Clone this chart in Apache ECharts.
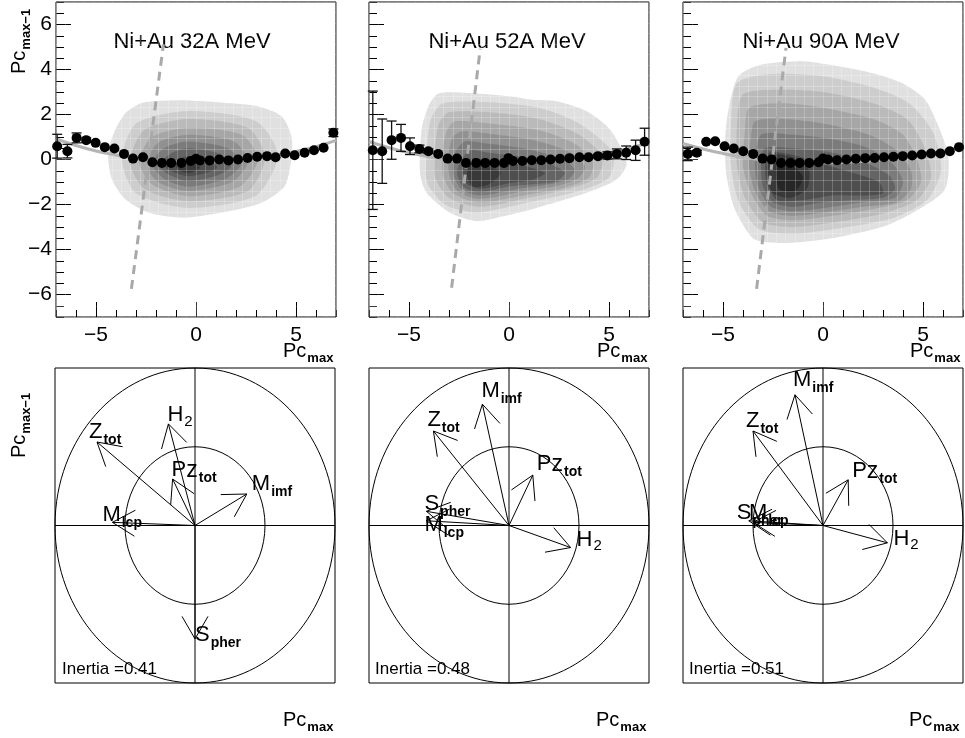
<!DOCTYPE html>
<html><head><meta charset="utf-8">
<script src="https://cdn.jsdelivr.net/npm/echarts@6/dist/echarts.min.js"></script>
<style>html,body{margin:0;padding:0;background:#fff}#c{width:965px;height:738px}</style>
</head><body><div id="c"></div>
<script>
// ---------------- DATA ----------------
const titles = ['Ni+Au 32A MeV', 'Ni+Au 52A MeV', 'Ni+Au 90A MeV'];
const xMajorTicks = [-5, 0, 5];
const yMajorTicks = [-6, -4, -2, 0, 2, 4, 6];

// profile points (mean PC_max-1 per PC_max bin) and their errors
const prof1X = [-6.94,-6.43,-5.97,-5.49,-5.02,-4.56,-4.08,-3.6,-3.15,-2.65,-2.18,-1.7,-1.24,-0.73,-0.27,0.0,0.2,0.68,1.16,1.62,2.1,2.58,3.06,3.55,3.98,4.46,4.93,5.43,5.9,6.38,6.87];
const prof1Y = [0.59,0.37,0.96,0.86,0.74,0.55,0.49,0.25,0.04,0.1,-0.12,-0.15,-0.15,-0.15,-0.07,0.03,-0.04,-0.04,0,-0.04,0,0.07,0.12,0.15,0.1,0.27,0.19,0.3,0.41,0.52,1.19];
const prof1E = [0.53,0.3,0.22,0.1,0.06,0.05,0,0,0,0,0,0,0,0,0,0,0,0,0,0,0,0,0,0,0,0,0,0,0,0.05,0.17];

const prof2X = [-6.81,-6.34,-5.87,-5.4,-4.95,-4.48,-4.03,-3.54,-3.07,-2.6,-2.15,-1.64,-1.19,-0.72,-0.25,-0.03,0.2,0.67,1.14,1.61,2.08,2.55,3.02,3.52,3.98,4.45,4.92,5.39,5.86,6.33,6.78];
const prof2Y = [0.41,0.37,0.86,0.96,0.59,0.47,0.37,0.25,0.04,0.04,-0.15,-0.15,-0.15,-0.15,-0.15,0.06,-0.07,-0.07,-0.03,-0.03,0,0.03,0.06,0.1,0.1,0.15,0.18,0.25,0.3,0.41,0.79];
const prof2E = [2.63,1.43,0.85,0.6,0.37,0.17,0.1,0.06,0,0,0,0,0,0,0,0,0,0,0,0,0,0,0,0,0.05,0.08,0.16,0.22,0.3,0.45,0.6];

const prof3X = [-6.76,-6.31,-5.84,-5.39,-4.92,-4.46,-3.99,-3.49,-3.02,-2.57,-2.1,-1.63,-1.17,-0.69,-0.22,0.0,0.25,0.7,1.17,1.64,2.11,2.58,3.05,3.52,3.99,4.46,4.93,5.4,5.87,6.34,6.8];
const prof3Y = [0.25,0.3,0.79,0.81,0.59,0.49,0.37,0.25,0.04,0,-0.15,-0.15,-0.15,-0.15,-0.12,0.04,0,-0.03,0,0.03,0.06,0.07,0.1,0.12,0.15,0.18,0.22,0.27,0.27,0.37,0.55];
const prof3E = [0.3,0.1,0.05,0,0,0,0,0,0,0,0,0,0,0,0,0,0,0,0,0,0,0,0,0,0,0,0,0,0,0,0];

// fitted parabola
const fitX = [-7,-6,-5,-4,-3,-2,-1,0,1,2,3,4,5,6,7];
const fit1Y = [0.93,0.62,0.38,0.2,0.03,-0.05,-0.1,-0.1,-0.08,-0.02,0.07,0.2,0.36,0.57,0.85];
const fit2Y = [0.8,0.52,0.3,0.12,-0.02,-0.1,-0.14,-0.14,-0.1,-0.05,0.05,0.16,0.3,0.5,0.75];
const fit3Y = [0.71,0.47,0.27,0.1,-0.02,-0.1,-0.14,-0.14,-0.12,-0.08,0.0,0.1,0.22,0.38,0.6];

// dashed separation line end points
const dash1 = [[-3.23,-5.75],[-1.63,5.11]];
const dash2 = [[-2.87,-5.7],[-1.44,4.92]];
const dash3 = [[-3.32,-5.75],[-1.85,4.96]];

// contour levels (outer -> inner), vertices [PC_max, PC_max-1]
const cont1 = [
 [[-2.67,2.52],[-0.81,2.63],[1.05,2.55],[3.08,2.37],[4.27,1.93],[4.77,1.04],[4.77,0.0],[4.43,-1.19],[3.25,-1.93],[1.22,-2.37],[-0.64,-2.59],[-2.34,-2.37],[-3.52,-1.78],[-4.2,-0.89],[-4.4,0.3],[-4.03,1.33],[-3.52,2.07]],
 [[-0.5,2.15],[3.0,1.7],[4.1,0.2],[3.0,-1.6],[-0.4,-2.15],[-3.0,-1.5],[-3.7,0.0],[-3.0,1.6]],
 [[-0.4,1.8],[2.6,1.4],[3.45,0.1],[2.6,-1.4],[-0.4,-1.85],[-2.6,-1.3],[-3.3,-0.1],[-2.6,1.3]],
 [[-0.4,1.4],[2.3,1.1],[3.1,0.0],[2.2,-1.2],[-0.4,-1.63],[-2.2,-1.1],[-2.85,-0.1],[-2.2,1.0]],
 [[-0.4,1.1],[1.9,0.8],[2.6,-0.1],[1.8,-1.0],[-0.4,-1.4],[-1.9,-1.0],[-2.5,-0.2],[-1.9,0.75]],
 [[-0.4,0.8],[1.6,0.5],[2.25,-0.2],[1.5,-0.85],[-0.4,-1.2],[-1.6,-0.85],[-2.2,-0.2],[-1.6,0.5]],
 [[-0.4,0.5],[1.2,0.25],[1.75,-0.3],[1.1,-0.7],[-0.4,-0.96],[-1.3,-0.7],[-1.85,-0.3],[-1.3,0.25]],
 [[-0.4,0.15],[0.6,0.0],[1.05,-0.35],[0.5,-0.6],[-0.4,-0.74],[-1.0,-0.6],[-1.5,-0.35],[-1.0,0.0]],
 [[-0.5,-0.05],[0.2,-0.35],[-0.4,-0.6],[-1.0,-0.35]]
];
const cont2 = [
 [[-3.62,2.89],[-3.12,2.99],[-1.95,2.96],[0.05,2.81],[1.05,2.67],[2.38,2.59],[3.88,2.15],[5.05,1.33],[5.88,-0.15],[5.38,-0.89],[3.88,-1.48],[1.38,-2.15],[-0.28,-2.52],[-1.62,-2.74],[-2.95,-2.37],[-4.12,-1.48],[-4.45,-0.59],[-4.37,1.33],[-4.03,2.37]],
 [[-3.3,2.5],[-1.0,2.55],[1.5,2.3],[3.5,1.6],[5.2,0.3],[5.0,-0.8],[3.5,-1.4],[1.0,-1.9],[-1.6,-2.35],[-3.2,-2.0],[-4.1,-1.0],[-4.1,0.5],[-3.9,1.8]],
 [[-3.0,2.1],[-1.0,2.1],[1.5,1.8],[3.5,1.1],[4.7,0.1],[4.4,-0.8],[3.0,-1.3],[1.0,-1.7],[-1.5,-2.1],[-3.0,-1.7],[-3.7,-0.8],[-3.7,0.5],[-3.5,1.6]],
 [[-2.7,1.7],[-1.0,1.6],[1.5,1.3],[3.3,0.7],[4.2,-0.1],[4.0,-0.8],[2.8,-1.25],[1.0,-1.55],[-1.5,-1.9],[-2.8,-1.5],[-3.3,-0.7],[-3.3,0.5],[-3.1,1.3]],
 [[-2.4,1.25],[-1.0,1.15],[1.3,0.85],[3.0,0.35],[3.8,-0.3],[3.5,-0.8],[2.5,-1.15],[0.8,-1.4],[-1.5,-1.75],[-2.6,-1.4],[-3.0,-0.6],[-3.0,0.4],[-2.8,1.0]],
 [[-2.2,0.8],[-1.0,0.7],[1.0,0.45],[2.6,0.05],[3.3,-0.45],[3.0,-0.85],[2.0,-1.1],[0.5,-1.3],[-1.5,-1.6],[-2.4,-1.3],[-2.8,-0.6],[-2.7,0.3]],
 [[-2.0,0.4],[-1.0,0.3],[0.8,0.1],[2.2,-0.25],[2.8,-0.6],[2.4,-0.95],[1.2,-1.1],[0.0,-1.2],[-1.5,-1.45],[-2.3,-1.2],[-2.6,-0.5]],
 [[-1.9,0.05],[-0.8,-0.1],[0.8,-0.3],[1.8,-0.6],[1.2,-0.9],[0.0,-1.05],[-1.5,-1.3],[-2.2,-1.0],[-2.3,-0.4]],
 [[-1.9,-0.2],[-1.0,-0.3],[-0.4,-0.6],[-1.0,-1.1],[-1.8,-1.2],[-2.1,-0.7]]
];
const cont3 = [
 [[-4.23,3.70],[-3.07,4.22],[-1.07,4.37],[0.27,4.22],[2.43,3.85],[3.93,3.41],[5.1,2.67],[5.77,1.48],[6.27,0.15],[6.1,-1.33],[4.77,-2.22],[3.1,-2.96],[0.6,-3.48],[-1.57,-3.7],[-3.4,-3.56],[-4.4,-2.22],[-4.82,-0.74],[-4.9,0.74],[-4.73,2.22]],
 [[-4.3,3.4],[-2.5,3.8],[0.0,3.7],[2.5,3.2],[4.3,2.5],[5.5,1.2],[5.9,-0.5],[5.2,-1.8],[3.5,-2.6],[0.5,-3.1],[-1.5,-3.3],[-3.2,-3.1],[-4.2,-1.9],[-4.6,-0.3],[-4.6,1.5]],
 [[-4.0,2.9],[-2.0,3.1],[0.0,3.0],[2.5,2.5],[4.2,1.8],[5.1,0.5],[5.4,-0.8],[4.7,-1.8],[3.0,-2.4],[0.5,-2.8],[-1.5,-3.0],[-3.0,-2.8],[-3.9,-1.7],[-4.3,-0.3],[-4.3,1.5]],
 [[-3.7,2.3],[-2.0,2.5],[0.0,2.3],[2.5,1.8],[4.0,1.1],[4.7,0.0],[4.9,-1.0],[4.2,-1.8],[2.5,-2.2],[0.5,-2.5],[-1.5,-2.7],[-2.8,-2.5],[-3.6,-1.5],[-4.0,-0.3],[-3.9,1.3]],
 [[-3.4,1.7],[-2.0,1.8],[0.0,1.6],[2.3,1.1],[3.7,0.4],[4.4,-0.5],[4.4,-1.3],[3.7,-1.9],[2.0,-2.1],[0.5,-2.3],[-1.5,-2.5],[-2.7,-2.3],[-3.4,-1.4],[-3.7,-0.3],[-3.6,1.0]],
 [[-3.1,1.1],[-1.5,1.1],[0.5,0.9],[2.3,0.5],[3.5,-0.2],[4.0,-1.0],[3.6,-1.7],[2.0,-1.9],[0.5,-2.1],[-1.5,-2.3],[-2.6,-2.1],[-3.2,-1.3],[-3.4,-0.3]],
 [[-2.9,0.5],[-1.5,0.5],[0.5,0.3],[2.0,-0.1],[3.3,-0.7],[3.6,-1.3],[3.0,-1.7],[1.5,-1.8],[0.0,-1.9],[-1.5,-2.1],[-2.5,-1.9],[-3.0,-1.2],[-3.1,-0.3]],
 [[-2.7,0.3],[-1.5,0.2],[0.0,-0.2],[1.5,-0.6],[2.8,-1.0],[3.0,-1.5],[2.0,-1.6],[0.5,-1.6],[-1.0,-1.8],[-2.3,-1.8],[-2.8,-1.1],[-2.9,-0.4]],
 [[-2.6,0.2],[-1.5,0.1],[-0.7,-0.5],[-0.8,-1.3],[-1.6,-1.7],[-2.5,-1.5],[-2.8,-0.6]],
 [[-2.3,-0.2],[-1.5,-0.3],[-1.0,-0.8],[-1.4,-1.4],[-2.2,-1.3]]
];

// correlation circle: variable vectors [PC_max, PC_max-1]
const vecNames = ['Ztot', 'H2', 'PZtot', 'Mimf', 'Mlcp', 'Spher'];
const vec1 = [[-0.70,0.53],[-0.19,0.645],[-0.16,0.295],[0.37,0.20],[-0.59,0.02],[0.0,-0.72]];
const vec2 = [[-0.54,0.60],[0.44,-0.14],[0.17,0.32],[-0.19,0.77],[-0.59,0.03],[-0.59,0.09]];
const vec3 = [[-0.50,0.60],[0.46,-0.11],[0.18,0.29],[-0.20,0.83],[-0.50,0.02],[-0.53,0.03]];
const inertia = [0.41, 0.48, 0.51];
const circleRadii = [1, 0.5];

// ---------------- STYLE / LAYOUT ----------------
const FONT = '"Liberation Sans", Arial, Helvetica, sans-serif';
const levelColors = ['#e0e0e0','#cdcdcd','#bababa','#a6a6a6','#919191','#7b7b7b','#646464','#4e4e4e','#393939','#262626'];
const topLefts = [56, 369, 683];
const botLefts = [55, 369, 683];
const titleCenters = [192, 507, 821];
// label offsets [dx, baseline dy] relative to arrow tip, per panel, per vector
const labelOffsets = [
  [[-8,-2],[-1,-1],[-1,-1],[5,-2],[-10,1],[0,4]],
  [[-6,-3],[6,0],[4,-3],[-1,-5],[-2,12],[-2,1]],
  [[-7,-2],[6,4],[4,-1],[-2,-7],[-4,-1],[-12,0]]
];
const labelText = {
  Ztot: '{b|Z}{s|tot}', H2: '{b|H}{n|2}', PZtot: '{b|P}{z|z}{s|tot}',
  Mimf: '{b|M}{s|imf}', Mlcp: '{b|M}{s|lcp}', Spher: '{b|S}{s|pher}'
};
const labelRich = {
  b: {fontSize: 22, lineHeight: 22, verticalAlign: 'top', fontFamily: FONT, fill: '#000', color: '#000'},
  z: {fontSize: 23, lineHeight: 22, verticalAlign: 'top', fontFamily: FONT, fill: '#000', color: '#000'},
  s: {fontSize: 14, fontWeight: 'bold', lineHeight: 14, padding: [12, 0, 0, 1], verticalAlign: 'top', fontFamily: FONT, fill: '#000', color: '#000'},
  n: {fontSize: 15, lineHeight: 15, padding: [10, 0, 0, 1], verticalAlign: 'top', fontFamily: FONT, fill: '#000', color: '#000'}
};
const axisRich = {
  b: {fontSize: 20, lineHeight: 20, verticalAlign: 'top', fontFamily: FONT, fill: '#000'},
  s: {fontSize: 13, fontWeight: 'bold', lineHeight: 13, padding: [11, 0, 0, 1], verticalAlign: 'top', fontFamily: FONT, fill: '#000'}
};

const profiles = [[prof1X,prof1Y,prof1E],[prof2X,prof2Y,prof2E],[prof3X,prof3Y,prof3E]];
const fits = [fit1Y, fit2Y, fit3Y];
const dashes = [dash1, dash2, dash3];
const contours = [cont1, cont2, cont3];
const vecs = [vec1, vec2, vec3];

const grid = [], xAxis = [], yAxis = [], series = [], graphic = [];
const minus = v => String(v).replace('-', '\u2212');
const noLine = {show: false, onZero: false};

for (let g = 0; g < 3; g++) {
  grid.push({left: topLefts[g], top: 2, width: 280, height: 315, show: true, borderColor: '#000', borderWidth: 1, backgroundColor: 'transparent'});
  const bx = {gridIndex: g, type: 'value', position: 'bottom', min: -7, max: 7, splitLine: {show: false}, axisLine: noLine};
  const by = {gridIndex: g, type: 'value', position: 'left', min: -7, max: 7, splitLine: {show: false}, axisLine: noLine};
  xAxis.push(Object.assign({}, bx, {interval: 1, axisTick: {show: true, inside: true, length: 7, lineStyle: {color: '#000'}}, axisLabel: {show: false}}));
  xAxis.push(Object.assign({}, bx, {axisTick: {show: true, inside: true, length: 15, customValues: xMajorTicks, lineStyle: {color: '#000'}},
    axisLabel: {show: true, customValues: xMajorTicks, formatter: minus, fontSize: 21, color: '#000', fontFamily: FONT, margin: 8}}));
  xAxis.push(Object.assign({}, bx, {interval: 14/30, z: 3, axisTick: {show: false}, axisLabel: {show: false},
    splitLine: {show: true, lineStyle: {color: 'rgba(255,255,255,0.22)', width: 1}}}));
  yAxis.push(Object.assign({}, by, {interval: 0.5, axisTick: {show: true, inside: true, length: 8, lineStyle: {color: '#000'}}, axisLabel: {show: false}}));
  yAxis.push(Object.assign({}, by, {axisTick: {show: true, inside: true, length: 15, customValues: yMajorTicks, lineStyle: {color: '#000'}},
    axisLabel: {show: g === 0, customValues: yMajorTicks, formatter: minus, fontSize: 21, color: '#000', fontFamily: FONT, margin: 4}}));
  yAxis.push(Object.assign({}, by, {interval: 14/30, z: 3, axisTick: {show: false}, axisLabel: {show: false},
    splitLine: {show: true, lineStyle: {color: 'rgba(255,255,255,0.22)', width: 1}}}));

  const xi = 3 * g, yi = 3 * g;
  const levels = contours[g];
  series.push({
    type: 'custom', xAxisIndex: xi, yAxisIndex: yi, z: 1, silent: true,
    data: levels.map((_, i) => [i, 0]),
    renderItem: (params, api) => {
      const i = api.value(0);
      const pts = levels[i].map(p => api.coord(p));
      return {type: 'polygon', shape: {points: pts, smooth: 0.25}, style: {fill: levelColors[i], stroke: null}};
    }
  });
  series.push({
    type: 'line', xAxisIndex: xi, yAxisIndex: yi, z: 4, smooth: true, symbol: 'none', silent: true,
    data: fitX.map((x, i) => [x, fits[g][i]]),
    lineStyle: {color: '#b4b4b4', width: 3}
  });
  series.push({
    type: 'line', xAxisIndex: xi, yAxisIndex: yi, z: 4, symbol: 'none', silent: true,
    data: dashes[g],
    lineStyle: {color: '#a9a9a9', width: 3, type: [9, 6]}
  });
  const [px, py, pe] = profiles[g];
  series.push({
    type: 'custom', xAxisIndex: xi, yAxisIndex: yi, z: 5, silent: true,
    data: px.map((x, i) => [x, py[i], pe[i]]).filter(d => d[2] > 0.07),
    renderItem: (params, api) => {
      const x = api.value(0), y = api.value(1), e = api.value(2);
      const lo = api.coord([x, y - e]), hi = api.coord([x, y + e]);
      const w = 5, st = {stroke: '#111', lineWidth: 1.3};
      return {type: 'group', children: [
        {type: 'line', shape: {x1: lo[0], y1: lo[1], x2: hi[0], y2: hi[1]}, style: st},
        {type: 'line', shape: {x1: lo[0] - w, y1: lo[1], x2: lo[0] + w, y2: lo[1]}, style: st},
        {type: 'line', shape: {x1: hi[0] - w, y1: hi[1], x2: hi[0] + w, y2: hi[1]}, style: st}
      ]};
    }
  });
  series.push({
    type: 'scatter', xAxisIndex: xi, yAxisIndex: yi, z: 6, silent: true,
    symbol: 'circle', symbolSize: 10, itemStyle: {color: '#000', opacity: 1},
    data: px.map((x, i) => [x, py[i]])
  });

  graphic.push({type: 'text', x: titleCenters[g], y: 42, style: {text: titles[g], font: '22px ' + FONT, fill: '#000', align: 'center', verticalAlign: 'middle'}});
  graphic.push({type: 'text', x: [283, 597, 910][g], y: 341, style: {text: '{b|Pc}{s|max}', rich: axisRich, align: 'left', verticalAlign: 'top'}});
}

for (let g = 0; g < 3; g++) {
  const gi = 3 + g;
  grid.push({left: botLefts[g], top: 368, width: 280, height: 315, show: true, borderColor: '#000', borderWidth: 1, backgroundColor: 'transparent'});
  xAxis.push({gridIndex: gi, type: 'value', min: -1, max: 1, show: false});
  yAxis.push({gridIndex: gi, type: 'value', min: -1, max: 1, show: false});
  const ai = 9 + g;
  series.push({
    type: 'custom', xAxisIndex: ai, yAxisIndex: ai, silent: true, z: 2,
    data: circleRadii.map(r => [r, 0]),
    renderItem: (params, api) => {
      const r = api.value(0);
      const c = api.coord([0, 0]);
      const s = api.size([r, r]);
      return {type: 'ellipse', shape: {cx: c[0], cy: c[1], rx: s[0], ry: s[1]}, style: {fill: null, stroke: '#000', lineWidth: 1}};
    }
  });
  series.push({
    type: 'custom', xAxisIndex: ai, yAxisIndex: ai, silent: true, z: 2,
    data: [[-1, 0, 1, 0], [0, -1, 0, 1]],
    renderItem: (params, api) => {
      const a = api.coord([api.value(0), api.value(1)]);
      const b = api.coord([api.value(2), api.value(3)]);
      return {type: 'line', shape: {x1: a[0], y1: a[1], x2: b[0], y2: b[1]}, style: {stroke: '#000', lineWidth: 1}};
    }
  });
  const offs = labelOffsets[g];
  series.push({
    type: 'custom', xAxisIndex: ai, yAxisIndex: ai, silent: true, z: 3,
    data: vecs[g].map((v, i) => [v[0], v[1], i]),
    renderItem: (params, api) => {
      const i = api.value(2);
      const o = api.coord([0, 0]);
      const t = api.coord([api.value(0), api.value(1)]);
      const ang = Math.atan2(o[1] - t[1], o[0] - t[0]);
      const L = 26, a = Math.PI / 6;
      const h1 = [t[0] + L * Math.cos(ang + a), t[1] + L * Math.sin(ang + a)];
      const h2 = [t[0] + L * Math.cos(ang - a), t[1] + L * Math.sin(ang - a)];
      const st = {stroke: '#000', lineWidth: 1, fill: null};
      return {type: 'group', children: [
        {type: 'line', shape: {x1: o[0], y1: o[1], x2: t[0], y2: t[1]}, style: st},
        {type: 'polyline', shape: {points: [h1, t, h2]}, style: st},
        {type: 'text', x: t[0] + offs[i][0], y: t[1] + offs[i][1] - 19,
          style: {text: labelText[vecNames[i]], rich: labelRich, align: 'left', verticalAlign: 'top', fill: '#000'}}
      ]};
    }
  });
  graphic.push({type: 'text', x: [62, 375, 689][g], y: 669, style: {text: 'Inertia =' + inertia[g].toFixed(2), font: '17px ' + FONT, fill: '#000', align: 'left', verticalAlign: 'middle'}});
  graphic.push({type: 'text', x: [283, 596, 909][g], y: 710, style: {text: '{b|Pc}{s|max}', rich: axisRich, align: 'left', verticalAlign: 'top'}});
}

graphic.push({type: 'text', x: 9, y: 74, rotation: Math.PI / 2, style: {text: '{b|Pc}{s|max\u22121}', rich: axisRich, align: 'left', verticalAlign: 'top'}});
graphic.push({type: 'text', x: 9, y: 458, rotation: Math.PI / 2, style: {text: '{b|Pc}{s|max\u22121}', rich: axisRich, align: 'left', verticalAlign: 'top'}});

const chart = echarts.init(document.getElementById('c'));
chart.setOption({animation: false, backgroundColor: '#fff', grid, xAxis, yAxis, series, graphic});
</script>
</body></html>
